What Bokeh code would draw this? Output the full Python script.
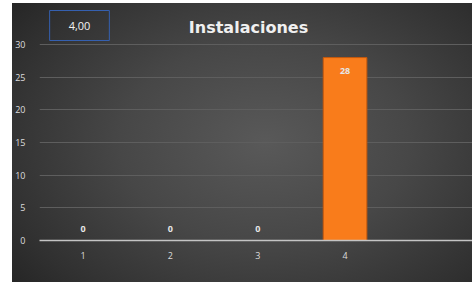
from bokeh.plotting import figure
from bokeh.models import ColumnDataSource, FixedTicker, Label, Range1d
from bokeh.core.properties import value
from bokeh.embed import file_html
from bokeh.resources import INLINE

categories = [1, 2, 3, 4]
values = [0, 0, 0, 28]
x_ticks = [1, 2, 3, 4]
y_ticks = [0, 5, 10, 15, 20, 25, 30]
title_text = "Instalaciones"
box_text = "4,00"

FONT = "Open Sans"
offsets = [13 if v > 0 else -12 for v in values]
src = ColumnDataSource(dict(x=categories, top=values,
                            lbl=[str(v) for v in values], off=offsets))

p = figure(width=460, height=279, output_backend="svg", toolbar_location=None,
           x_range=Range1d(0.5, 5.46), y_range=Range1d(0, 36.28),
           min_border_left=25, min_border_right=0, min_border_top=0,
           min_border_bottom=42,
           styles={"background": "radial-gradient(ellipse 70% 80% at 55% 50%, #595959 0%, #474747 45%, #303030 85%, #262626 100%)",
                   "margin-left": "12px", "margin-top": "3px"})
p.border_fill_alpha = 0
p.background_fill_alpha = 0
p.outline_line_color = None

p.vbar(x="x", top="top", width=0.5, source=src, fill_color="#f97c1b",
       line_color="#c4580c", line_width=1)

p.text(x="x", y="top", text="lbl", y_offset="off", source=src,
       text_align="center", text_baseline="middle", text_color="#e6e6e6",
       text_font=value(FONT), text_font_size="9px", text_font_style="bold")

p.xgrid.visible = False
p.ygrid.ticker = FixedTicker(ticks=y_ticks)
p.ygrid.grid_line_color = "#5e5e5e"
p.ygrid.grid_line_width = 1

p.xaxis.ticker = FixedTicker(ticks=x_ticks)
p.xaxis.axis_line_color = "#c4c4c4"
p.xaxis.axis_line_width = 1.5
p.xaxis.major_tick_line_color = None
p.xaxis.minor_tick_line_color = None
p.xaxis.major_label_standoff = 5
p.xaxis.major_label_text_color = "#dcdcdc"
p.xaxis.major_label_text_font = FONT
p.xaxis.major_label_text_font_size = "9px"

p.yaxis.ticker = FixedTicker(ticks=y_ticks)
p.yaxis.axis_line_color = None
p.yaxis.major_tick_line_color = None
p.yaxis.minor_tick_line_color = None
p.yaxis.major_label_standoff = 8
p.yaxis.major_label_text_color = "#dcdcdc"
p.yaxis.major_label_text_font = FONT
p.yaxis.major_label_text_font_size = "9px"

p.add_layout(Label(x=209, y=213, x_units="screen", y_units="screen",
                   text=title_text, text_align="center", text_baseline="middle",
                   text_color="#f0f0f0", text_font="DejaVu Sans", text_font_size="16px",
                   text_font_style="bold"))

p.add_layout(Label(x=40, y=215, x_units="screen", y_units="screen",
                   text=box_text, text_align="center", text_baseline="middle",
                   text_color="#f2f2f2", text_font=FONT, text_font_size="11px",
                   border_line_color="#3560b0", border_line_width=1,
                   padding=(19, 11)))

open("out.html", "w").write(file_html(p, INLINE))
